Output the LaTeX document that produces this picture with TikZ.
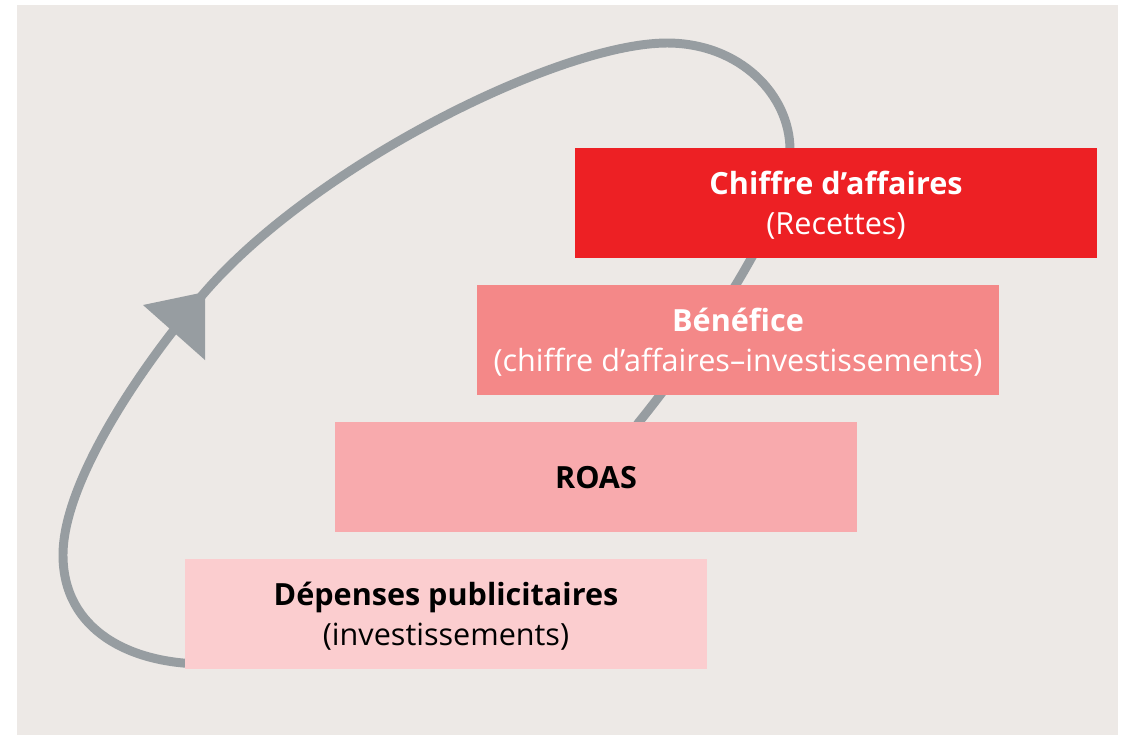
\documentclass[tikz,border=0pt]{standalone}
\usepackage{fontspec}
\setmainfont{Open Sans}
\usetikzlibrary{calc}

\definecolor{backGrey}{HTML}{EDE9E6}
\definecolor{loopGrey}{HTML}{979DA1}
\definecolor{stageRed}{HTML}{ED2024}
\definecolor{stageRose}{HTML}{F48888}
\definecolor{stagePink}{HTML}{F8AAAD}
\definecolor{stagePale}{HTML}{FBCDCF}

\begin{document}
\begin{tikzpicture}[x=0.02cm, y=-0.02cm,
	stage/.style={minimum width=10.44cm, minimum height=2.2cm, inner sep=0pt,
		align=center, text depth=0pt, font=\fontsize{17.4}{23}\selectfont},
	cycleline/.style={loopGrey, line width=5.1pt}]
		%%%%% START %%%%%
		\useasboundingbox (0, 0) rectangle (1124, 735);
		\fill[backGrey] (17, 5) rectangle (1118, 735);
		
		% loop behind the stages
		\draw[cycleline] (205, 664)
			.. controls (130, 664) and (63, 630) .. (63, 555)
			.. controls (63, 480) and (145, 361) .. (205, 292)
			.. controls (315, 165) and (560, 43) .. (667, 43)
			.. controls (740, 43) and (790, 95) .. (790, 150)
			.. controls (792, 220) and (679, 373) .. (639, 422)
			-- (590, 490);
		\fill[loopGrey] (205, 292) -- (143, 305) -- (205, 360) -- cycle;
		
		\node[stage, fill=stageRed, text=white] (revenue) at (836, 203)
			{\textbf{Chiffre d’affaires}\\(Recettes)};
		\node[stage, fill=stageRose, text=white] (profit) at (738, 340)
			{\textbf{Bénéfice}\\(chiffre d’affaires–investissements)};
		\node[stage, fill=stagePink] (roas) at (596, 477) {\textbf{ROAS}};
		\node[stage, fill=stagePale] (adspend) at (446, 614)
			{\textbf{Dépenses publicitaires}\\(investissements)};
		%%%%% END %%%%%
\end{tikzpicture}
\end{document}
